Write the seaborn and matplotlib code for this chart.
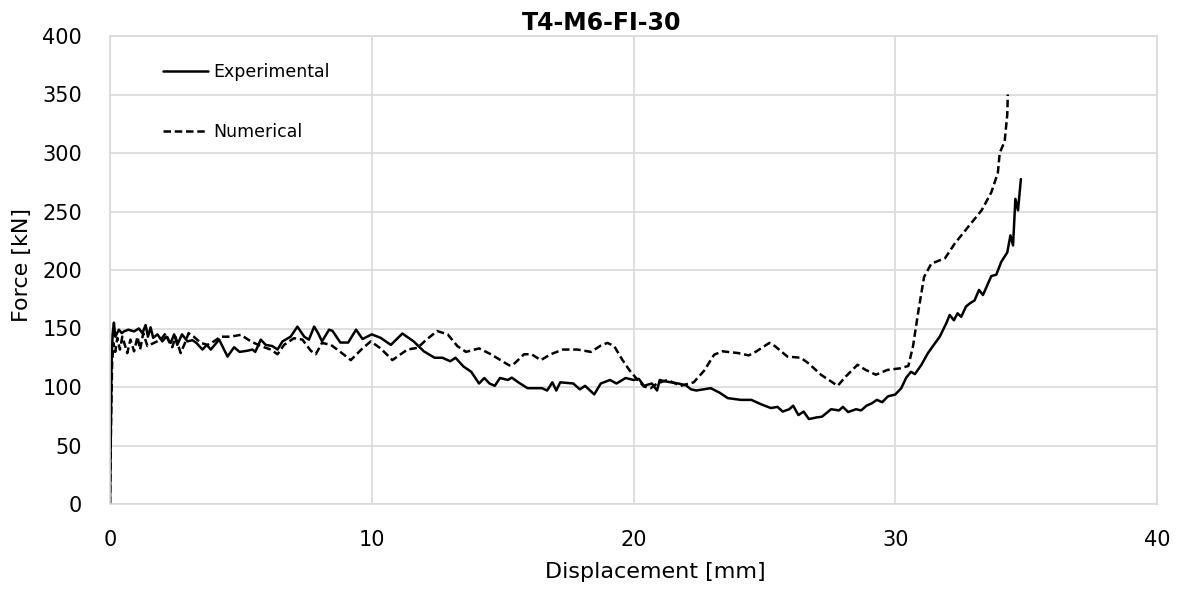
import numpy as np
import pandas as pd
import seaborn as sns
import matplotlib.pyplot as plt

# Force-displacement curves
exp_disp = [
    0, 0.03, 0.06, 0.1, 0.15, 0.2, 0.34, 0.45, 0.53, 0.7,
    0.92, 1.1, 1.24, 1.36, 1.45, 1.55, 1.65, 1.81, 2.0, 2.15,
    2.32, 2.45, 2.57, 2.75, 2.96, 3.15, 3.3, 3.53, 3.7, 3.85,
    4.17, 4.49, 4.74, 4.95, 5.25, 5.44, 5.55, 5.76, 5.95, 6.2,
    6.4, 6.59, 6.9, 7.16, 7.42, 7.6, 7.8, 7.95, 8.1, 8.37,
    8.5, 8.8, 9.1, 9.4, 9.65, 10.0, 10.34, 10.73, 11.17, 11.6,
    11.99, 12.4, 12.7, 13.0, 13.2, 13.5, 13.8, 14.1, 14.3, 14.5,
    14.7, 14.9, 15.2, 15.35, 15.6, 15.95, 16.5, 16.7, 16.9, 17.05,
    17.2, 17.7, 17.95, 18.15, 18.5, 18.75, 19.1, 19.35, 19.7, 20.0,
    20.2, 20.4, 20.7, 20.9, 21.0, 21.17, 21.7, 22.0, 22.2, 22.4,
    22.95, 23.3, 23.6, 24.1, 24.5, 24.9, 25.25, 25.5, 25.7, 25.95,
    26.1, 26.3, 26.5, 26.7, 27.0, 27.2, 27.55, 27.85, 28.0, 28.2,
    28.5, 28.7, 28.9, 29.1, 29.3, 29.5, 29.72, 30.0, 30.23, 30.42,
    30.6, 30.75, 31.0, 31.25, 31.44, 31.7, 31.95, 32.08, 32.24, 32.38,
    32.52, 32.7, 32.85, 33.03, 33.2, 33.35, 33.67, 33.86, 34.05, 34.28,
    34.4, 34.5, 34.59, 34.69, 34.8,
]
exp_force = [
    0, 60, 120, 145, 155, 143, 149, 146, 147.5, 149,
    147.5, 150, 146, 153, 143, 151, 142, 145, 139, 143,
    137.7, 145, 136, 145, 139, 140, 137.7, 132, 136, 132,
    140.5, 126, 134, 130, 131, 132, 130, 140.5, 136, 135,
    132, 139, 143, 151.6, 143, 140.5, 151.6, 146, 139, 149,
    148, 138, 138, 149, 141, 145, 142, 136, 145.7, 139,
    130.5, 125, 125, 122, 125, 117.6, 113, 103, 107.7, 103,
    101, 107.7, 106, 108, 104, 99, 99, 97, 104, 97,
    104, 103, 98, 101, 93.7, 103, 106, 103, 107.7, 106,
    107, 101, 103, 97, 106, 105, 103, 101.5, 98, 97,
    99, 95, 90.5, 89, 89, 85, 82, 83, 79, 81,
    84, 76, 79, 72.6, 74, 74.6, 81, 80, 83, 78.6,
    81, 80, 84, 86, 89, 87, 92, 93.6, 99, 108,
    113, 111, 119, 129, 135, 143, 154.5, 161.6, 157, 163,
    160, 168.7, 171.5, 174, 183, 178.6, 194.8, 196, 207, 215,
    229.6, 221, 260.8, 251, 277.7,
]

num_disp = [
    0, 0.04, 0.08, 0.13, 0.2, 0.28, 0.38, 0.47, 0.58, 0.66,
    0.78, 0.92, 1.05, 1.15, 1.27, 1.43, 1.68, 1.94, 2.13, 2.25,
    2.38, 2.5, 2.7, 2.89, 3.0, 3.2, 3.47, 3.72, 3.97, 4.23,
    4.61, 5.0, 5.38, 5.76, 6.14, 6.4, 6.65, 7.03, 7.35, 7.67,
    7.86, 8.1, 8.44, 8.8, 9.2, 9.6, 9.96, 10.34, 10.79, 11.36,
    11.75, 12.1, 12.5, 12.9, 13.27, 13.6, 14.1, 14.55, 15.25, 15.4,
    15.82, 16.1, 16.46, 16.84, 17.3, 17.86, 18.37, 18.75, 19.0, 19.26,
    19.58, 19.84, 20.16, 20.4, 20.66, 20.9, 21.3, 21.8, 22.3, 22.7,
    23.08, 23.4, 24.0, 24.4, 24.7, 25.19, 25.4, 25.88, 26.39, 26.7,
    27.16, 27.8, 28.11, 28.56, 28.87, 29.26, 29.7, 30.2, 30.5, 30.68,
    30.87, 31.1, 31.38, 31.9, 32.27, 32.78, 33.3, 33.67, 33.92, 33.99,
    34.18, 34.28, 34.3,
]
num_force = [
    0, 70, 120, 137.7, 130, 142, 132, 143, 135, 129,
    140.5, 130.5, 143, 132, 146, 135, 137.7, 140.5, 146, 139,
    134, 143, 129, 139, 146, 143, 137.7, 136, 139, 143,
    143, 144.6, 139, 135, 132, 128, 136, 141.7, 140.5, 131,
    128, 137.7, 136, 130, 123, 132, 139, 133, 123, 132,
    133.5, 140.7, 147.8, 145, 135, 130, 133, 128, 118.5, 119,
    128, 128, 123, 128, 132, 132, 130, 135.4, 137.7, 135,
    123, 114.5, 106, 100.4, 99, 103, 106, 101, 104, 114,
    127.6, 130.5, 129, 127, 130.5, 137.7, 135, 126, 125, 120,
    110.5, 101, 109, 119, 114.6, 110.5, 114.6, 116, 118, 135,
    163, 194, 205.5, 210, 222.5, 236.7, 251, 266.4, 283, 300,
    310, 333, 350,
]

x_ticks = [0, 10, 20, 30, 40]
y_ticks = [0, 50, 100, 150, 200, 250, 300, 350, 400]

sns.set_style('whitegrid')
plt.rcParams['font.family'] = ['DejaVu Sans']
GRID = '#d9d9d9'

fig = plt.figure(figsize=(11.78, 5.91), dpi=100)
ax = fig.add_axes([110 / 1178, 1 - 504 / 591, 1047 / 1178, 468 / 591])

exp_df = pd.DataFrame({'disp': exp_disp, 'force': exp_force})
num_df = pd.DataFrame({'disp': num_disp, 'force': num_force})

sns.lineplot(data=exp_df, x='disp', y='force', ax=ax, sort=False, estimator=None,
             color='black', linewidth=1.8, label='Experimental')
sns.lineplot(data=num_df, x='disp', y='force', ax=ax, sort=False, estimator=None,
             color='black', linewidth=1.8, linestyle=(0, (3, 1.5)), label='Numerical')

ax.set_xlim(0, 40)
ax.set_ylim(0, 400)
ax.set_xticks(x_ticks)
ax.set_yticks(y_ticks)
ax.grid(True, color=GRID, linewidth=1.2)
for s in ax.spines.values():
    s.set_color(GRID)
    s.set_linewidth(1.2)
ax.tick_params(axis='both', length=0, labelsize=15, colors='black')
ax.tick_params(axis='y', pad=20)
ax.tick_params(axis='x', pad=19)

ax.set_xlabel('Displacement [mm]', fontsize=16, color='black')
ax.set_ylabel('Force [kN]', fontsize=16, color='black')
ax.xaxis.set_label_coords(0.5205, -0.125)
ax.yaxis.set_label_coords(-0.0745, 0.511)

fig.suptitle('T4-M6-FI-30', x=602 / 1178, y=1 - 23 / 591, va='center',
             fontsize=17, fontweight='bold', color='black')

leg = ax.legend(loc='upper left', bbox_to_anchor=(0.0506, 0.943), frameon=False,
                fontsize=12.5, handlelength=2.6, handletextpad=0.3, labelspacing=2.42,
                borderpad=0, borderaxespad=0)
for t in leg.get_texts():
    t.set_color('black')

plt.savefig('out.png', dpi=100)
